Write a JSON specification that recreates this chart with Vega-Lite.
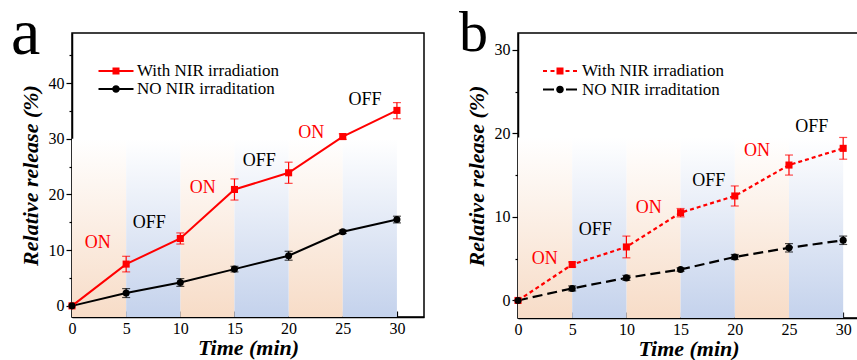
{
  "$schema": "https://vega.github.io/schema/vega-lite/v6.json",
  "padding": {"left": 10, "top": 0, "right": 0, "bottom": 0},
  "background": "white",
  "spacing": 33,
  "datasets": {
    "rel_a": [
      {"t": 0, "v": 0, "lo": 0, "hi": 0, "series": "With NIR irradiation"},
      {"t": 5, "v": 7.5, "lo": 6.1, "hi": 8.9, "series": "With NIR irradiation"},
      {"t": 10, "v": 12.1, "lo": 11.1, "hi": 13.1, "series": "With NIR irradiation"},
      {"t": 15, "v": 20.9, "lo": 19.0, "hi": 22.8, "series": "With NIR irradiation"},
      {"t": 20, "v": 23.9, "lo": 22.0, "hi": 25.8, "series": "With NIR irradiation"},
      {"t": 25, "v": 30.4, "lo": 29.9, "hi": 30.9, "series": "With NIR irradiation"},
      {"t": 30, "v": 35.1, "lo": 33.6, "hi": 36.5, "series": "With NIR irradiation"},
      {"t": 0, "v": 0, "lo": 0, "hi": 0, "series": "NO NIR irraditation"},
      {"t": 5, "v": 2.3, "lo": 1.5, "hi": 3.1, "series": "NO NIR irraditation"},
      {"t": 10, "v": 4.2, "lo": 3.5, "hi": 4.9, "series": "NO NIR irraditation"},
      {"t": 15, "v": 6.6, "lo": 6.1, "hi": 7.1, "series": "NO NIR irraditation"},
      {"t": 20, "v": 9.0, "lo": 8.2, "hi": 9.8, "series": "NO NIR irraditation"},
      {"t": 25, "v": 13.3, "lo": 13.0, "hi": 13.6, "series": "NO NIR irraditation"},
      {"t": 30, "v": 15.5, "lo": 14.9, "hi": 16.1, "series": "NO NIR irraditation"}
    ],
    "rel_b": [
      {"t": 0, "v": 0, "lo": 0, "hi": 0, "series": "With NIR irradiation"},
      {"t": 5, "v": 4.3, "lo": 4.0, "hi": 4.6, "series": "With NIR irradiation"},
      {"t": 10, "v": 6.4, "lo": 5.1, "hi": 7.7, "series": "With NIR irradiation"},
      {"t": 15, "v": 10.5, "lo": 10.0, "hi": 11.0, "series": "With NIR irradiation"},
      {"t": 20, "v": 12.5, "lo": 11.3, "hi": 13.7, "series": "With NIR irradiation"},
      {"t": 25, "v": 16.2, "lo": 15.0, "hi": 17.4, "series": "With NIR irradiation"},
      {"t": 30, "v": 18.2, "lo": 16.9, "hi": 19.5, "series": "With NIR irradiation"},
      {"t": 0, "v": 0, "lo": 0, "hi": 0, "series": "NO NIR irraditation"},
      {"t": 5, "v": 1.44, "lo": 1.14, "hi": 1.74, "series": "NO NIR irraditation"},
      {"t": 10, "v": 2.7, "lo": 2.4, "hi": 3.0, "series": "NO NIR irraditation"},
      {"t": 15, "v": 3.7, "lo": 3.5, "hi": 3.9, "series": "NO NIR irraditation"},
      {"t": 20, "v": 5.2, "lo": 4.9, "hi": 5.5, "series": "NO NIR irraditation"},
      {"t": 25, "v": 6.3, "lo": 5.8, "hi": 6.8, "series": "NO NIR irraditation"},
      {"t": 30, "v": 7.2, "lo": 6.7, "hi": 7.7, "series": "NO NIR irraditation"}
    ],
    "bands_a": [
      {"start": 0, "end": 5, "state": "ON", "bottom": -2, "top": 30},
      {"start": 5, "end": 10, "state": "OFF", "bottom": -2, "top": 30},
      {"start": 10, "end": 15, "state": "ON", "bottom": -2, "top": 30},
      {"start": 15, "end": 20, "state": "OFF", "bottom": -2, "top": 30},
      {"start": 20, "end": 25, "state": "ON", "bottom": -2, "top": 30},
      {"start": 25, "end": 30, "state": "OFF", "bottom": -2, "top": 30}
    ],
    "bands_b": [
      {"start": 0, "end": 5, "state": "ON", "bottom": -2.1, "top": 19.5},
      {"start": 5, "end": 10, "state": "OFF", "bottom": -2.1, "top": 19.5},
      {"start": 10, "end": 15, "state": "ON", "bottom": -2.1, "top": 19.5},
      {"start": 15, "end": 20, "state": "OFF", "bottom": -2.1, "top": 19.5},
      {"start": 20, "end": 25, "state": "ON", "bottom": -2.1, "top": 19.5},
      {"start": 25, "end": 30, "state": "OFF", "bottom": -2.1, "top": 19.5}
    ],
    "labels_a": [
      {"x": 2.37, "y": 11.2, "state": "ON"},
      {"x": 7.14, "y": 14.9, "state": "OFF"},
      {"x": 12.07, "y": 21.2, "state": "ON"},
      {"x": 17.3, "y": 26.1, "state": "OFF"},
      {"x": 22.1, "y": 31.1, "state": "ON"},
      {"x": 27.05, "y": 37.0, "state": "OFF"}
    ],
    "labels_b": [
      {"x": 2.46, "y": 4.9, "state": "ON"},
      {"x": 7.13, "y": 8.4, "state": "OFF"},
      {"x": 12.06, "y": 11.1, "state": "ON"},
      {"x": 17.6, "y": 14.3, "state": "OFF"},
      {"x": 22.05, "y": 17.9, "state": "ON"},
      {"x": 27.1, "y": 20.8, "state": "OFF"}
    ]
  },
  "hconcat": [
    {
      "width": 352,
      "height": 284,
      "title": {"text": "a", "anchor": "start", "frame": "group", "fontSize": 66, "font": "Liberation Serif", "fontWeight": "normal", "baseline": "alphabetic", "offset": -87, "dx": -61, "color": "black"},
      "encoding": {
        "x": {"field": "t", "type": "quantitative", "scale": {"domain": [0, 32.5], "nice": false, "zero": false},
          "axis": {"title": "Time (min)", "orient": "bottom", "values": [0, 2.5, 5, 7.5, 10, 12.5, 15, 17.5, 20, 22.5, 25, 27.5, 30],
            "labelExpr": "datum.value % 5 === 0 ? datum.label : ''",
            "tickSize": {"condition": {"test": "datum.value % 5 !== 0", "value": -3}, "value": -6},
            "labelPadding": 9, "titlePadding": 1, "labelFlush": false,
            "labelFont": "Liberation Serif", "labelFontSize": 16, "labelColor": "black",
            "titleFont": "Liberation Serif", "titleFontSize": 22, "titleFontWeight": "bold", "titleFontStyle": "italic", "titleColor": "black",
            "domainColor": "black", "domainWidth": 1.5, "tickColor": "black", "tickWidth": 1.2, "grid": false}},
        "y": {"field": "v", "type": "quantitative", "scale": {"domain": [-2, 49], "nice": false, "zero": false},
          "axis": {"title": "Relative release (%)", "orient": "left", "values": [0, 5, 10, 15, 20, 25, 30, 35, 40, 45],
            "labelExpr": "datum.value % 10 === 0 ? datum.label : ''",
            "tickSize": {"condition": {"test": "datum.value % 10 !== 0", "value": 3}, "value": 6},
            "labelPadding": 2, "titlePadding": 6,
            "labelFont": "Liberation Serif", "labelFontSize": 16, "labelColor": "black",
            "titleFont": "Liberation Serif", "titleFontSize": 22, "titleFontWeight": "bold", "titleFontStyle": "italic", "titleColor": "black",
            "domainColor": "black", "domainWidth": 1.5, "tickColor": "black", "tickWidth": 1.2, "grid": false}}
      },
      "layer": [
        {"data": {"name": "bands_a"}, "transform": [{"filter": "datum.state === 'ON'"}],
          "mark": {"type": "rect", "fill": {"gradient": "linear", "x1": 0, "y1": 1, "x2": 0, "y2": 0, "stops": [{"offset": 0, "color": "#f7dcc7"}, {"offset": 1, "color": "#ffffff"}]}},
          "encoding": {"x": {"field": "start", "type": "quantitative"}, "x2": {"field": "end"}, "y": {"field": "bottom", "type": "quantitative"}, "y2": {"field": "top"}}},
        {"data": {"name": "bands_a"}, "transform": [{"filter": "datum.state === 'OFF'"}],
          "mark": {"type": "rect", "fill": {"gradient": "linear", "x1": 0, "y1": 1, "x2": 0, "y2": 0, "stops": [{"offset": 0, "color": "#c4d2ec"}, {"offset": 1, "color": "#ffffff"}]}},
          "encoding": {"x": {"field": "start", "type": "quantitative"}, "x2": {"field": "end"}, "y": {"field": "bottom", "type": "quantitative"}, "y2": {"field": "top"}}},
        {"data": {"name": "rel_a"}, "transform": [{"filter": "datum.series === 'NO NIR irraditation'"}],
          "mark": {"type": "line", "strokeWidth": 2, "color": "#000000"}, "encoding": {}},
        {"data": {"name": "rel_a"}, "transform": [{"filter": "datum.series === 'With NIR irradiation'"}],
          "mark": {"type": "line", "strokeWidth": 2, "color": "#ff0000"}, "encoding": {}},
        {"data": {"name": "rel_a"}, "transform": [{"filter": "datum.t > 0 && datum.series === 'With NIR irradiation'"}],
          "mark": {"type": "errorbar", "ticks": {"size": 8}, "thickness": 1.2, "color": "#ff0000"},
          "encoding": {"y": {"field": "lo", "type": "quantitative"}, "y2": {"field": "hi"}}},
        {"data": {"name": "rel_a"}, "transform": [{"filter": "datum.t > 0 && datum.series === 'NO NIR irraditation'"}],
          "mark": {"type": "errorbar", "ticks": {"size": 8}, "thickness": 1.2, "color": "#000000"},
          "encoding": {"y": {"field": "lo", "type": "quantitative"}, "y2": {"field": "hi"}}},
        {"data": {"name": "rel_a"}, "transform": [{"filter": "datum.series === 'With NIR irradiation'"}],
          "mark": {"type": "point", "shape": "square", "filled": true, "size": 50, "opacity": 1, "color": "#ff0000"}},
        {"data": {"name": "rel_a"}, "transform": [{"filter": "datum.series === 'NO NIR irraditation'"}],
          "mark": {"type": "point", "shape": "circle", "filled": true, "size": 50, "opacity": 1, "color": "#000000"}},
        {"data": {"name": "labels_a"},
          "mark": {"type": "text", "font": "Liberation Serif", "fontSize": 18, "align": "center", "baseline": "middle"},
          "encoding": {"x": {"field": "x", "type": "quantitative"}, "y": {"field": "y", "type": "quantitative"}, "text": {"field": "state"},
            "color": {"condition": {"test": "datum.state === 'ON'", "value": "#ff0000"}, "value": "#000000"}}},
        {"data": {"name": "rel_a"},
          "mark": {"type": "point", "filled": true, "strokeWidth": 0, "fillOpacity": 0},
          "encoding": {
            "fill": {"field": "series", "type": "nominal",
              "scale": {"domain": ["With NIR irradiation", "NO NIR irraditation"], "range": ["#ff0000", "#000000"]},
              "legend": {"title": null, "orient": "none", "legendX": 34, "legendY": 28, "padding": 0, "symbolSize": 400, "symbolStrokeWidth": 0, "symbolOpacity": 1, "symbolFillOpacity": 1,
                "labelFont": "Liberation Serif", "labelFontSize": 17, "labelColor": "black", "labelOffset": 11, "rowPadding": 0, "labelLimit": 400}},
            "shape": {"field": "series", "type": "nominal",
              "scale": {"domain": ["With NIR irradiation", "NO NIR irraditation"],
                "range": ["M-1.75,-0.1H1.75V0.1H-1.75Z M-0.35,-0.35H0.35V0.35H-0.35Z", "M-1.75,-0.1H1.75V0.1H-1.75Z M-0.38,0A0.38,0.38,0,1,1,0.38,0A0.38,0.38,0,1,1,-0.38,0Z"]},
              "legend": {"title": null, "orient": "none", "legendX": 34, "legendY": 28, "padding": 0, "symbolSize": 400, "symbolStrokeWidth": 0, "symbolOpacity": 1, "symbolFillOpacity": 1,
                "labelFont": "Liberation Serif", "labelFontSize": 17, "labelColor": "black", "labelOffset": 11, "rowPadding": 0, "labelLimit": 400}}}}
      ]
    },
    {
      "width": 341,
      "height": 285,
      "title": {"text": "b", "anchor": "start", "frame": "group", "fontSize": 58, "font": "Liberation Serif", "fontWeight": "normal", "baseline": "alphabetic", "offset": -76, "dx": -59, "color": "black"},
      "encoding": {
        "x": {"field": "t", "type": "quantitative", "scale": {"domain": [0, 31.46], "nice": false, "zero": false},
          "axis": {"title": "Time (min)", "orient": "bottom", "values": [0, 2.5, 5, 7.5, 10, 12.5, 15, 17.5, 20, 22.5, 25, 27.5, 30],
            "labelExpr": "datum.value % 5 === 0 ? datum.label : ''",
            "tickSize": {"condition": {"test": "datum.value % 5 !== 0", "value": -3}, "value": -6},
            "labelPadding": 9, "titlePadding": 1, "labelFlush": false,
            "labelFont": "Liberation Serif", "labelFontSize": 16, "labelColor": "black",
            "titleFont": "Liberation Serif", "titleFontSize": 22, "titleFontWeight": "bold", "titleFontStyle": "italic", "titleColor": "black",
            "domainColor": "black", "domainWidth": 1.5, "tickColor": "black", "tickWidth": 1.2, "grid": false}},
        "y": {"field": "v", "type": "quantitative", "scale": {"domain": [-2.1, 32], "nice": false, "zero": false},
          "axis": {"title": "Relative release (%)", "orient": "left", "values": [0, 5, 10, 15, 20, 25, 30],
            "labelExpr": "datum.value % 10 === 0 ? datum.label : ''",
            "tickSize": {"condition": {"test": "datum.value % 10 !== 0", "value": 3}, "value": 6},
            "labelPadding": 2, "titlePadding": 6,
            "labelFont": "Liberation Serif", "labelFontSize": 16, "labelColor": "black",
            "titleFont": "Liberation Serif", "titleFontSize": 22, "titleFontWeight": "bold", "titleFontStyle": "italic", "titleColor": "black",
            "domainColor": "black", "domainWidth": 1.5, "tickColor": "black", "tickWidth": 1.2, "grid": false}}
      },
      "layer": [
        {"data": {"name": "bands_b"}, "transform": [{"filter": "datum.state === 'ON'"}],
          "mark": {"type": "rect", "fill": {"gradient": "linear", "x1": 0, "y1": 1, "x2": 0, "y2": 0, "stops": [{"offset": 0, "color": "#f7dcc7"}, {"offset": 1, "color": "#ffffff"}]}},
          "encoding": {"x": {"field": "start", "type": "quantitative"}, "x2": {"field": "end"}, "y": {"field": "bottom", "type": "quantitative"}, "y2": {"field": "top"}}},
        {"data": {"name": "bands_b"}, "transform": [{"filter": "datum.state === 'OFF'"}],
          "mark": {"type": "rect", "fill": {"gradient": "linear", "x1": 0, "y1": 1, "x2": 0, "y2": 0, "stops": [{"offset": 0, "color": "#c4d2ec"}, {"offset": 1, "color": "#ffffff"}]}},
          "encoding": {"x": {"field": "start", "type": "quantitative"}, "x2": {"field": "end"}, "y": {"field": "bottom", "type": "quantitative"}, "y2": {"field": "top"}}},
        {"data": {"name": "rel_b"}, "transform": [{"filter": "datum.series === 'NO NIR irraditation'"}],
          "mark": {"type": "line", "strokeWidth": 2.2, "color": "#000000", "strokeDash": [10, 5]}, "encoding": {}},
        {"data": {"name": "rel_b"}, "transform": [{"filter": "datum.series === 'With NIR irradiation'"}],
          "mark": {"type": "line", "strokeWidth": 2.2, "color": "#ff0000", "strokeDash": [4, 3]}, "encoding": {}},
        {"data": {"name": "rel_b"}, "transform": [{"filter": "datum.t > 0 && datum.series === 'With NIR irradiation'"}],
          "mark": {"type": "errorbar", "ticks": {"size": 8}, "thickness": 1.2, "color": "#ff0000"},
          "encoding": {"y": {"field": "lo", "type": "quantitative"}, "y2": {"field": "hi"}}},
        {"data": {"name": "rel_b"}, "transform": [{"filter": "datum.t > 0 && datum.series === 'NO NIR irraditation'"}],
          "mark": {"type": "errorbar", "ticks": {"size": 8}, "thickness": 1.2, "color": "#000000"},
          "encoding": {"y": {"field": "lo", "type": "quantitative"}, "y2": {"field": "hi"}}},
        {"data": {"name": "rel_b"}, "transform": [{"filter": "datum.series === 'With NIR irradiation'"}],
          "mark": {"type": "point", "shape": "square", "filled": true, "size": 50, "opacity": 1, "color": "#ff0000"}},
        {"data": {"name": "rel_b"}, "transform": [{"filter": "datum.series === 'NO NIR irraditation'"}],
          "mark": {"type": "point", "shape": "circle", "filled": true, "size": 50, "opacity": 1, "color": "#000000"}},
        {"data": {"name": "labels_b"},
          "mark": {"type": "text", "font": "Liberation Serif", "fontSize": 18, "align": "center", "baseline": "middle"},
          "encoding": {"x": {"field": "x", "type": "quantitative"}, "y": {"field": "y", "type": "quantitative"}, "text": {"field": "state"},
            "color": {"condition": {"test": "datum.state === 'ON'", "value": "#ff0000"}, "value": "#000000"}}},
        {"data": {"name": "rel_b"},
          "mark": {"type": "point", "filled": true, "strokeWidth": 0, "fillOpacity": 0},
          "encoding": {
            "fill": {"field": "series", "type": "nominal",
              "scale": {"domain": ["With NIR irradiation", "NO NIR irraditation"], "range": ["#ff0000", "#000000"]},
              "legend": {"title": null, "orient": "none", "legendX": 32, "legendY": 28, "padding": 0, "symbolSize": 400, "symbolStrokeWidth": 0, "symbolOpacity": 1, "symbolFillOpacity": 1,
                "labelFont": "Liberation Serif", "labelFontSize": 17, "labelColor": "black", "labelOffset": 12, "rowPadding": 0.5, "labelLimit": 400}},
            "shape": {"field": "series", "type": "nominal",
              "scale": {"domain": ["With NIR irradiation", "NO NIR irraditation"],
                "range": ["M-1.7,-0.1H-1.3V0.1H-1.7Z M-0.95,-0.1H-0.55V0.1H-0.95Z M-0.35,-0.35H0.35V0.35H-0.35Z M0.55,-0.1H0.95V0.1H0.55Z M1.3,-0.1H1.7V0.1H1.3Z", "M-1.7,-0.1H-0.6V0.1H-1.7Z M-0.38,0A0.38,0.38,0,1,1,0.38,0A0.38,0.38,0,1,1,-0.38,0Z M0.6,-0.1H1.7V0.1H0.6Z"]},
              "legend": {"title": null, "orient": "none", "legendX": 32, "legendY": 28, "padding": 0, "symbolSize": 400, "symbolStrokeWidth": 0, "symbolOpacity": 1, "symbolFillOpacity": 1,
                "labelFont": "Liberation Serif", "labelFontSize": 17, "labelColor": "black", "labelOffset": 12, "rowPadding": 0.5, "labelLimit": 400}}}}
      ]
    }
  ],
  "resolve": {
    "scale": {"x": "independent", "y": "independent", "fill": "independent", "shape": "independent"},
    "legend": {"fill": "independent", "shape": "independent"}
  },
  "config": {
    "view": {"stroke": "black", "strokeWidth": 1.5},
    "legend": {"labelFont": "Liberation Serif"}
  }
}
